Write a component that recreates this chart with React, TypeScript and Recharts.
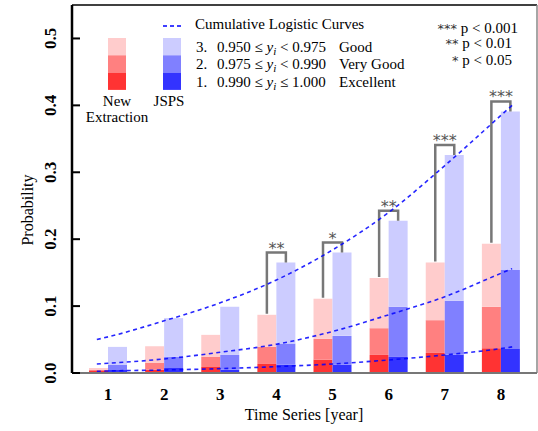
import React from 'react'
import {
  ComposedChart,
  Bar,
  Line,
  XAxis,
  YAxis,
  ReferenceLine,
  Rectangle,
} from 'recharts'

const years = ['1', '2', '3', '4', '5', '6', '7', '8']

// cumulative heights (Excellent, +Very Good, +Good)
const neExcellent = [0.003, 0.005, 0.009, 0.0135, 0.02, 0.027, 0.03, 0.037]
const neVeryGood = [0.0045, 0.0155, 0.0245, 0.039, 0.051, 0.067, 0.079, 0.099]
const neGood = [0.0075, 0.04, 0.057, 0.087, 0.111, 0.142, 0.165, 0.193]
const jsExcellent = [0.0045, 0.0075, 0.005, 0.0125, 0.0125, 0.024, 0.0275, 0.036]
const jsVeryGood = [0.0125, 0.024, 0.027, 0.044, 0.0555, 0.099, 0.108, 0.154]
const jsGood = [0.039, 0.082, 0.099, 0.165, 0.18, 0.2275, 0.326, 0.391]
const significance = ['', '', '', '**', '*', '**', '***', '***']

// logistic curves
const curveX = [0.8, 1, 2, 3, 4, 5, 6, 7, 8, 8.2]
const curveGood = [0.05, 0.054, 0.078, 0.105, 0.139, 0.184, 0.24, 0.31, 0.385, 0.4]
const curveVeryGood = [0.0135, 0.0145, 0.021, 0.031, 0.043, 0.062, 0.087, 0.114, 0.149, 0.156]
const curveExcellent = [0.0025, 0.003, 0.0045, 0.0065, 0.0095, 0.0135, 0.0195, 0.027, 0.0365, 0.039]

const yTicks = [0, 0.1, 0.2, 0.3, 0.4, 0.5]

const RED = ['#ff3333', '#ff8080', '#ffcccc']
const BLUE = ['#3333ff', '#8080ff', '#ccccff']
const SERIF = '"Liberation Serif", "Times New Roman", serif'
const STAR_FONT = '"DejaVu Sans", sans-serif'

const barData = years.map((year, i) => ({
  year,
  neExc: neExcellent[i],
  neVg: neVeryGood[i] - neExcellent[i],
  neGood: neGood[i] - neVeryGood[i],
  jsExc: jsExcellent[i],
  jsVg: jsVeryGood[i] - jsExcellent[i],
  jsGood: jsGood[i] - jsVeryGood[i],
  neTotal: neGood[i],
  jsTotal: jsGood[i],
  sig: significance[i],
}))

const curveData = curveX.map((x, i) => ({
  x,
  good: curveGood[i],
  veryGood: curveVeryGood[i],
  excellent: curveExcellent[i],
}))

// top blue segment, also draws the significance bracket
function BracketBar(props: any) {
  const { x, y, width, height, payload, fill } = props
  const rect = <Rectangle x={x} y={y} width={width} height={height} fill={fill} />
  if (!payload.sig) return rect
  const scale = height / payload.jsGood
  const redTop = y + (payload.jsTotal - payload.neTotal) * scale
  const left = x - width / 2
  const right = x + width / 2
  const top = y - 10
  return (
    <g>
      {rect}
      <path
        d={`M${left},${redTop - 1} L${left},${top} L${right},${top} L${right},${y}`}
        fill="none"
        stroke="#777"
        strokeWidth={2.5}
      />
      <text
        x={x}
        y={top + 1}
        textAnchor="middle"
        fontFamily={STAR_FONT}
        fontSize={16}
        fill="#555"
      >
        {payload.sig}
      </text>
    </g>
  )
}

const YTick = ({ x, y, payload }: any) => (
  <g>
    <line x1={x} x2={x + 8} y1={y} y2={y} stroke="#000" strokeWidth={2} />
    <text
      transform={`translate(${x - 22},${y}) rotate(-90)`}
      textAnchor="middle"
      dominantBaseline="central"
      fontFamily={SERIF}
      fontWeight="bold"
      fontSize={17}
      fill="#000"
    >
      {payload.value.toFixed(1)}
    </text>
  </g>
)

const XTick = ({ x, y, payload }: any) => (
  <text
    x={x}
    y={y + 25}
    textAnchor="middle"
    fontFamily={SERIF}
    fontWeight="bold"
    fontSize={17}
    fill="#000"
  >
    {payload.value}
  </text>
)

function LegendOverlay() {
  const txt = { fontFamily: SERIF, fontSize: 15, fill: '#000', fontWeight: 'normal' }
  const rows = [
    { n: '3.', lo: '0.950', op1: '≤', op2: '<', hi: '0.975', name: 'Good', y: 52 },
    { n: '2.', lo: '0.975', op1: '≤', op2: '<', hi: '0.990', name: 'Very Good', y: 69 },
    { n: '1.', lo: '0.990', op1: '≤', op2: '≤', hi: '1.000', name: 'Excellent', y: 87 },
  ]
  return (
    <svg
      width={538}
      height={431}
      style={{ position: 'absolute', left: 0, top: 0, pointerEvents: 'none' }}
    >
      {[2, 1, 0].map((k, j) => (
        <g key={k}>
          <rect x={108} y={38 + j * 17.3} width={18} height={17.3} fill={RED[k]} />
          <rect x={163} y={38 + j * 17.3} width={18} height={17.3} fill={BLUE[k]} />
        </g>
      ))}
      <text x={117} y={106} textAnchor="middle" {...txt}>New</text>
      <text x={117} y={122} textAnchor="middle" {...txt}>Extraction</text>
      <text x={169} y={106} textAnchor="middle" {...txt}>JSPS</text>
      <line x1={163} x2={181} y1={26} y2={26} stroke="#0000ff" strokeWidth={1.5} strokeDasharray="4 3" />
      <text x={195} y={29} {...txt}>Cumulative Logistic Curves</text>
      {rows.map((r) => (
        <g key={r.n}>
          <text x={196} y={r.y} {...txt}>{r.n}</text>
          <text x={217} y={r.y} {...txt}>
            {r.lo} {r.op1} <tspan fontStyle="italic">y</tspan>
            <tspan fontStyle="italic" fontSize={11} dy={3}>i</tspan>
            <tspan dy={-3}> {r.op2} {r.hi}</tspan>
          </text>
          <text x={339} y={r.y} {...txt}>{r.name}</text>
        </g>
      ))}
      <text x={518} y={33} textAnchor="end" {...txt}>
        <tspan fontFamily={STAR_FONT} fontSize={13} fill="#333">***</tspan> p {'<'} 0.001
      </text>
      <text x={512} y={48} textAnchor="end" {...txt}>
        <tspan fontFamily={STAR_FONT} fontSize={13} fill="#333">**</tspan> p {'<'} 0.01
      </text>
      <text x={512} y={65} textAnchor="end" {...txt}>
        <tspan fontFamily={STAR_FONT} fontSize={13} fill="#333">*</tspan> p {'<'} 0.05
      </text>
    </svg>
  )
}

export default function App() {
  return (
    <div style={{ position: 'absolute', left: 0, top: 0, width: 538, height: 431, background: '#fff' }}>
      <ComposedChart
        width={538}
        height={431}
        data={barData}
        margin={{ top: 5, right: 1, bottom: 0, left: 0 }}
        barGap={0}
        barSize={19}
      >
        <XAxis
          dataKey="year"
          xAxisId="bars"
          height={58}
          padding={{ left: 8, right: 8 }}
          axisLine={{ stroke: '#777', strokeWidth: 2 }}
          tickLine={false}
          tickSize={0}
          tick={<XTick />}
          interval={0}
          label={{
            content: () => (
              <text
                x={304}
                y={420}
                textAnchor="middle"
                fontFamily={SERIF}
                fontWeight="normal"
                fontSize={16}
                fill="#000"
              >
                Time Series [year]
              </text>
            ),
          }}
        />
        <XAxis
          xAxisId="curve"
          dataKey="x"
          type="number"
          domain={[0.3575, 8.6425]}
          allowDataOverflow
          hide
        />
        <YAxis
          width={72}
          domain={[0, 0.55]}
          ticks={yTicks}
          allowDataOverflow
          axisLine={{ stroke: '#000', strokeWidth: 2.5 }}
          tickLine={false}
          tickSize={0}
          tickMargin={0}
          tick={<YTick />}
          label={{
            content: () => (
              <text
                transform="translate(27,210) rotate(-90)"
                textAnchor="middle"
                dominantBaseline="central"
                fontFamily={SERIF}
                fontWeight="normal"
                fontSize={16}
                fill="#000"
              >
                Probability
              </text>
            ),
          }}
        />
        <ReferenceLine xAxisId="curve" y={0.55} stroke="#000" strokeWidth={1.5} />
        <ReferenceLine xAxisId="curve" x={8.6425} stroke="#888" strokeWidth={1.5} />

        <Bar xAxisId="bars" dataKey="neExc" stackId="ne" fill={RED[0]} isAnimationActive={false} />
        <Bar xAxisId="bars" dataKey="neVg" stackId="ne" fill={RED[1]} isAnimationActive={false} />
        <Bar xAxisId="bars" dataKey="neGood" stackId="ne" fill={RED[2]} isAnimationActive={false} />
        <Bar xAxisId="bars" dataKey="jsExc" stackId="js" fill={BLUE[0]} isAnimationActive={false} />
        <Bar xAxisId="bars" dataKey="jsVg" stackId="js" fill={BLUE[1]} isAnimationActive={false} />
        <Bar
          xAxisId="bars"
          dataKey="jsGood"
          stackId="js"
          fill={BLUE[2]}
          shape={<BracketBar />}
          isAnimationActive={false}
        />

        {(['good', 'veryGood', 'excellent'] as const).map((k) => (
          <Line
            key={k}
            xAxisId="curve"
            data={curveData}
            dataKey={k}
            type="monotone"
            stroke="#0000ff"
            strokeOpacity={0.85}
            strokeWidth={1.6}
            strokeDasharray="4 3.5"
            dot={false}
            activeDot={false}
            isAnimationActive={false}
          />
        ))}
      </ComposedChart>
      <LegendOverlay />
    </div>
  )
}
